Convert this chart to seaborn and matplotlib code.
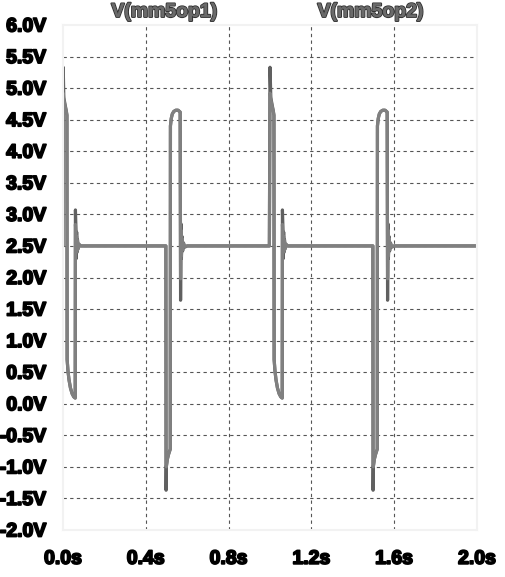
import pandas as pd
import numpy as np
import seaborn as sns
import matplotlib
matplotlib.use('Agg')
import matplotlib.pyplot as plt
import matplotlib.patheffects as pe

# values (time in s, voltage in V)
t_op1 = [0.000, 0.001, 0.004, 0.010, 0.016, 0.019, 0.020, 0.024, 0.029, 0.036, 0.044, 0.052, 0.059,
         0.060, 0.062, 0.064, 0.066, 0.068, 0.070, 0.073, 0.077, 0.085,
         0.497, 0.498, 0.499, 0.504, 0.510, 0.518, 0.519, 0.523, 0.528, 0.535, 0.545, 0.556, 0.566,
         0.568, 0.570, 0.572, 0.575, 0.578, 0.582, 0.588, 0.600,
         0.997, 1.000, 1.004, 1.010, 1.016, 1.019, 1.020, 1.024, 1.029, 1.036, 1.044, 1.052, 1.059,
         1.060, 1.062, 1.064, 1.066, 1.068, 1.070, 1.073, 1.077, 1.085,
         1.497, 1.498, 1.499, 1.504, 1.510, 1.518, 1.519, 1.523, 1.528, 1.535, 1.545, 1.556, 1.566,
         1.568, 1.570, 1.572, 1.575, 1.578, 1.582, 1.588, 1.600, 2.000]
v_op1 = [2.50, 5.33, 4.85, 4.74, 4.64, 4.57, 0.70, 0.52, 0.38, 0.25, 0.16, 0.11, 0.09,
         3.07, 2.85, 2.30, 2.72, 2.40, 2.60, 2.45, 2.53, 2.50,
         2.50, -1.37, -1.00, -0.88, -0.80, -0.72, 4.40, 4.52, 4.59, 4.63, 4.65, 4.65, 4.62,
         1.64, 2.85, 2.30, 2.65, 2.42, 2.55, 2.48, 2.50,
         2.50, 5.33, 4.85, 4.74, 4.64, 4.57, 0.70, 0.52, 0.38, 0.25, 0.16, 0.11, 0.09,
         3.07, 2.85, 2.30, 2.72, 2.40, 2.60, 2.45, 2.53, 2.50,
         2.50, -1.37, -1.00, -0.88, -0.80, -0.72, 4.40, 4.52, 4.59, 4.63, 4.65, 4.65, 4.62,
         1.64, 2.85, 2.30, 2.65, 2.42, 2.55, 2.48, 2.50, 2.50]

t_op2 = [0.000, 0.001, 0.004, 0.010, 0.016, 0.019, 0.020, 0.024, 0.029, 0.036, 0.044, 0.052, 0.059,
         0.060, 0.062, 0.064, 0.066, 0.068, 0.070, 0.073, 0.077, 0.085,
         0.497, 0.498, 0.499, 0.504, 0.510, 0.518, 0.519, 0.523, 0.528, 0.535, 0.545, 0.556, 0.566,
         0.568, 0.570, 0.572, 0.575, 0.578, 0.582, 0.588, 0.600,
         0.997, 1.000, 1.004, 1.010, 1.016, 1.019, 1.020, 1.024, 1.029, 1.036, 1.044, 1.052, 1.059,
         1.060, 1.062, 1.064, 1.066, 1.068, 1.070, 1.073, 1.077, 1.085,
         1.497, 1.498, 1.499, 1.504, 1.510, 1.518, 1.519, 1.523, 1.528, 1.535, 1.545, 1.556, 1.566,
         1.568, 1.570, 1.572, 1.575, 1.578, 1.582, 1.588, 1.600, 2.000]
v_op2 = [2.50, 4.92, 4.82, 4.72, 4.63, 4.57, 0.70, 0.52, 0.38, 0.25, 0.16, 0.11, 0.09,
         2.84, 2.75, 2.40, 2.65, 2.42, 2.58, 2.46, 2.52, 2.50,
         2.50, -0.95, -1.00, -0.88, -0.80, -0.72, 4.40, 4.52, 4.59, 4.63, 4.65, 4.65, 4.62,
         1.98, 2.75, 2.35, 2.62, 2.44, 2.54, 2.49, 2.50,
         2.50, 4.92, 4.82, 4.72, 4.63, 4.57, 0.70, 0.52, 0.38, 0.25, 0.16, 0.11, 0.09,
         2.84, 2.75, 2.40, 2.65, 2.42, 2.58, 2.46, 2.52, 2.50,
         2.50, -0.95, -1.00, -0.88, -0.80, -0.72, 4.40, 4.52, 4.59, 4.63, 4.65, 4.65, 4.62,
         1.98, 2.75, 2.35, 2.62, 2.44, 2.54, 2.49, 2.50, 2.50]

names = ['V(mm5op1)', 'V(mm5op2)']
xticks = [0.0, 0.4, 0.8, 1.2, 1.6, 2.0]
xlabels = ['0.0s', '0.4s', '0.8s', '1.2s', '1.6s', '2.0s']
yticks = [-2.0, -1.5, -1.0, -0.5, 0.0, 0.5, 1.0, 1.5, 2.0, 2.5, 3.0, 3.5, 4.0, 4.5, 5.0, 5.5, 6.0]
ylabels = ['%.1fV' % v for v in yticks]

df = pd.concat([
    pd.DataFrame({'t': t_op1, 'V': v_op1, 'trace': names[0]}),
    pd.DataFrame({'t': t_op2, 'V': v_op2, 'trace': names[1]}),
], ignore_index=True)

sns.set_style('white')
plt.rcParams['font.family'] = ['Liberation Sans', 'DejaVu Sans']
plt.rcParams['font.weight'] = 'bold'

fig = plt.figure(figsize=(5.06, 5.77), dpi=100)
ax = fig.add_axes([63/506, 1 - 530/577, 414/506, 505/577])

palette = {names[0]: '#606060', names[1]: '#808080'}
sns.lineplot(data=df, x='t', y='V', hue='trace', palette=palette, estimator=None,
             sort=False, linewidth=2.3, legend=False, ax=ax)

ax.set_xlim(0, 2.0)
ax.set_ylim(-2.0, 6.0)
ax.set_xticks(xticks)
ax.set_xticklabels(xlabels, fontsize=14, fontweight='bold')
ax.set_yticks(yticks)
ax.set_yticklabels(ylabels, fontsize=14, fontweight='bold')
ax.set_xlabel('')
ax.set_ylabel('')
ax.tick_params(axis='both', length=0, colors='black')
ax.tick_params(axis='x', pad=15)
ax.tick_params(axis='y', pad=12)

# thicken the tick labels like the LTspice font
bold_fx = [pe.withStroke(linewidth=1.3, foreground='black')]
for lab in ax.get_xticklabels() + ax.get_yticklabels():
    lab.set_path_effects(bold_fx)

ax.grid(True, color='#555555', linestyle=(0, (3, 3)), linewidth=0.8)
ax.set_axisbelow(True)
gx = ax.get_xgridlines()
gy = ax.get_ygridlines()
for g in [gx[0], gx[-1], gy[0], gy[-1]]:
    g.set_visible(False)

for s in ax.spines.values():
    s.set_color('#f2f2f2')
    s.set_linewidth(1.5)

title_fx = [pe.withStroke(linewidth=1.5, foreground='#333333'), pe.Normal()]
ax.text(0.245, 1.025, names[0], transform=ax.transAxes, ha='center', va='center',
        fontsize=14, fontweight='bold', color='#6a6a6a', path_effects=title_fx)
ax.text(0.743, 1.025, names[1], transform=ax.transAxes, ha='center', va='center',
        fontsize=14, fontweight='bold', color='#6a6a6a', path_effects=title_fx)

fig.savefig('out.png', dpi=100)
